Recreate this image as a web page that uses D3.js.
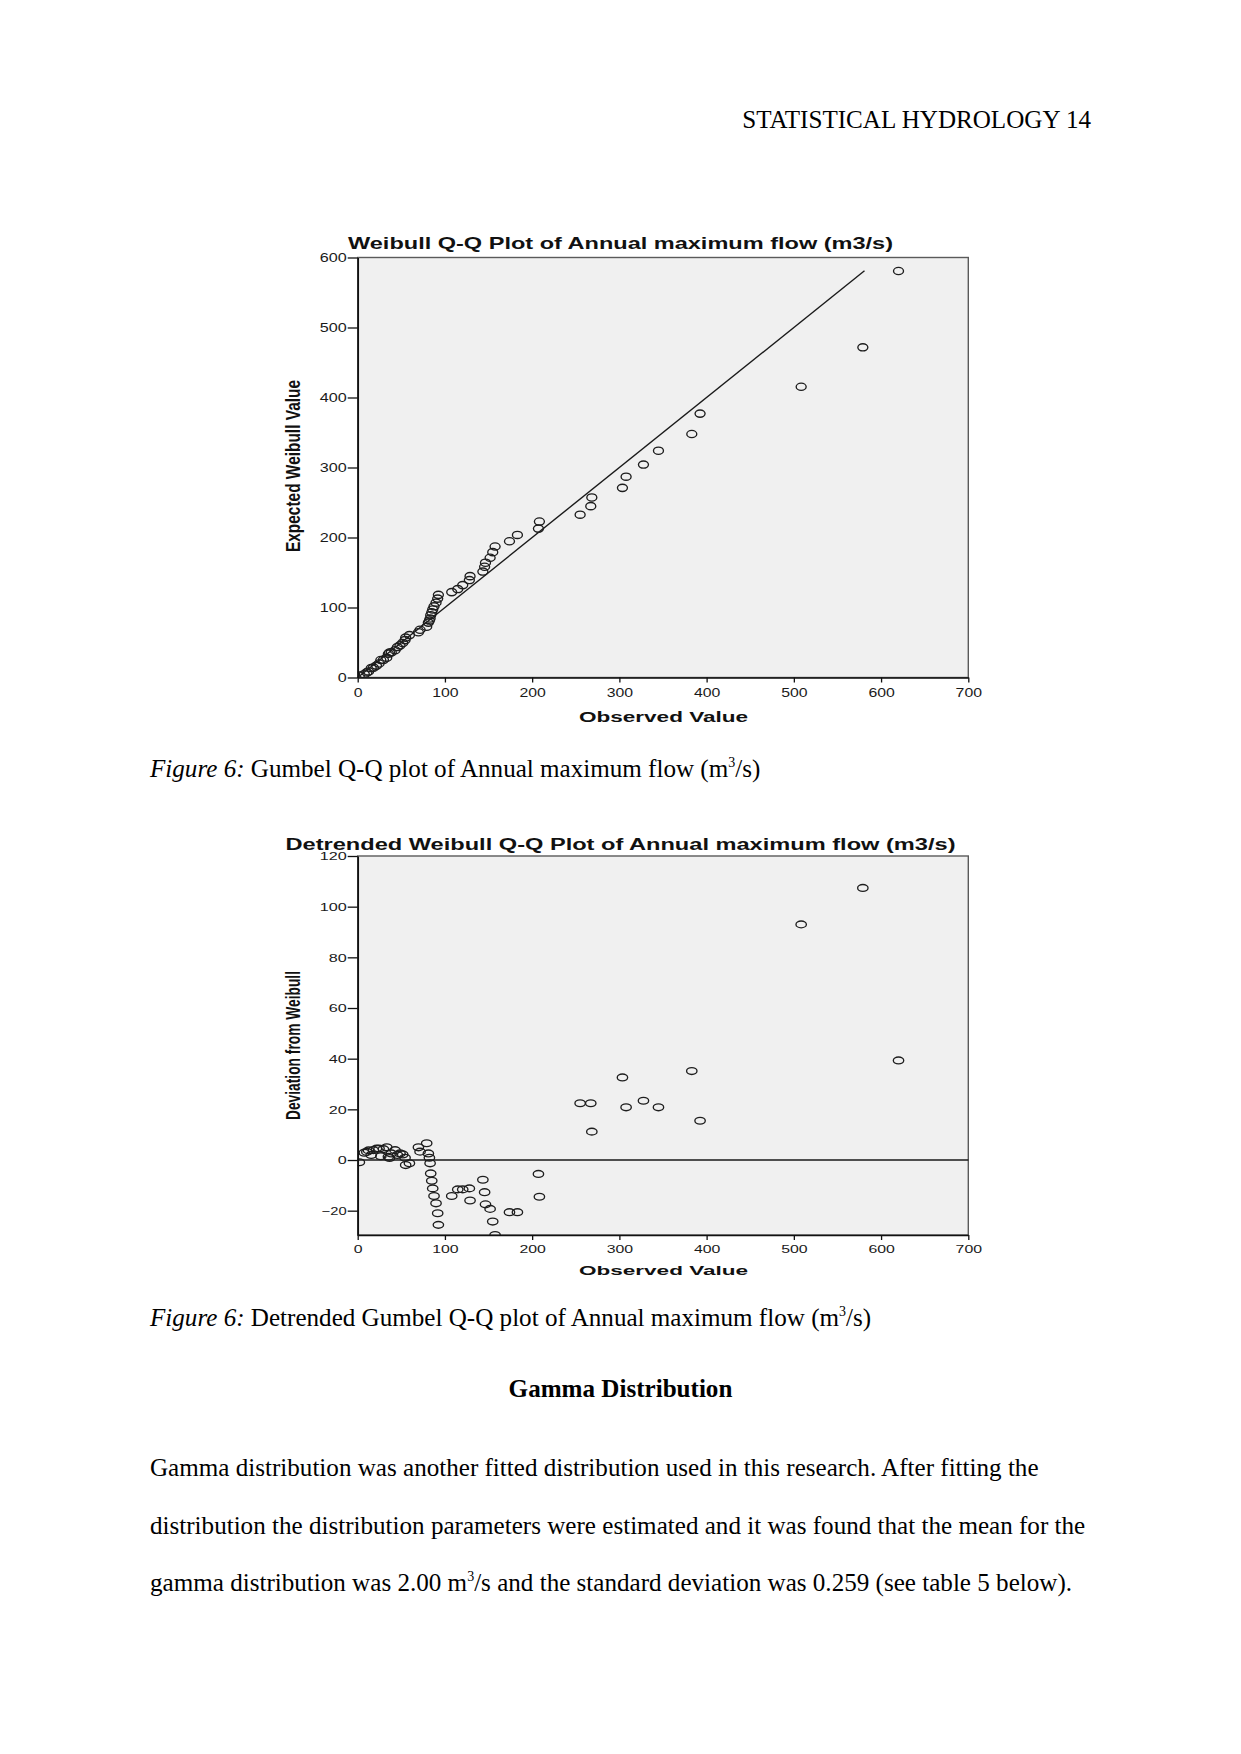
<!DOCTYPE html>
<html>
<head>
<meta charset="utf-8">
<script src="https://cdn.jsdelivr.net/npm/d3@7"></script>
<style>
  html, body { margin: 0; padding: 0; background: #fff; }
  svg { display: block; }
</style>
</head>
<body>
<svg id="page" width="1241" height="1754"></svg>
<script>
// ---------------- DATA ----------------
const xTicks = [0, 100, 200, 300, 400, 500, 600, 700];
const qqYTicks = [0, 100, 200, 300, 400, 500, 600];
const dtYTicks = [-20, 0, 20, 40, 60, 80, 100, 120];

// Observed annual maximum flows (x values, sorted)
const observed = [1.9, 7.6, 10.5, 12.5, 15.5, 18.0, 21.5, 24.5, 26.5, 29.5,
  33.3, 35.2, 36.5, 38.5, 42.8, 45.5, 48.5, 51.6, 54.3, 55.0,
  59.3, 69.6, 71.5, 79.1, 81.0, 82.2, 83.0, 83.7, 84.9, 86.0,
  87.5, 89.8, 91.7, 92.5, 107.8, 114.7, 120.4, 128.0, 128.8, 143.5,
  145.5, 146.5, 151.8, 154.8, 157.5, 174.0, 183.1, 207.2, 208.3, 255.0,
  267.2, 268.4, 303.5, 307.7, 327.6, 344.8, 383.0, 392.5, 508.4, 579.1, 620.0];

// Expected Weibull values (y values of the Q-Q plot)
const expected = [2.8, 4.7, 7.3, 8.7, 13.5, 14.1, 17.0, 20.0, 25.0, 25.2,
  28.3, 33.9, 35.7, 35.9, 38.9, 43.5, 45.9, 49.4, 53.4, 57.0,
  60.6, 64.6, 68.2, 72.5, 78.4, 81.3, 84.3, 89.0, 93.1, 97.2,
  101.7, 106.9, 112.7, 118.1, 122.0, 126.3, 132.0, 139.2, 144.8, 151.3,
  158.2, 164.0, 171.1, 179.1, 187.1, 194.6, 203.7, 212.7, 222.8, 232.6,
  244.8, 257.2, 270.9, 286.9, 304.2, 324.0, 347.9, 377.0, 415.4, 471.7, 580.7];

// Deviation from Weibull (y values of the detrended plot)
const deviation = [-0.9, 2.9, 3.2, 3.8, 2.0, 3.9, 4.5, 4.5, 1.5, 4.3,
  5.0, 1.3, 0.8, 2.6, 3.9, 2.0, 2.6, 2.2, 0.9, -2.0,
  -1.3, 5.0, 3.3, 6.6, 2.6, 0.9, -1.3, -5.3, -8.2, -11.2,
  -14.2, -17.1, -21.0, -25.6, -14.2, -11.6, -11.6, -11.2, -16.0, -7.8,
  -12.7, -17.5, -19.3, -24.3, -29.6, -20.6, -20.6, -5.5, -14.5, 22.4,
  22.4, 11.2, 32.6, 20.8, 23.4, 20.8, 35.1, 15.5, 93.0, 107.4, 39.3];

// Reference lines (data units)
const qqRefLine = [[0, 0], [581, 581]];
const dtZeroLine = [[0, 0], [700, 0]];

// Texts
const header = "STATISTICAL HYDROLOGY 14";
const qqTitle = "Weibull Q-Q Plot of Annual maximum flow (m3/s)";
const dtTitle = "Detrended Weibull Q-Q Plot of Annual maximum flow (m3/s)";
const qqYLabel = "Expected Weibull Value";
const dtYLabel = "Deviation from Weibull";
const xLabel = "Observed Value";
const caption1 = ["Gumbel Q-Q plot of Annual maximum flow (m", "3", "/s)"];
const caption2 = ["Detrended Gumbel Q-Q plot of Annual maximum flow (m", "3", "/s)"];
const sectionHead = "Gamma Distribution";
const paraLines = [
  ["Gamma distribution was another fitted distribution used in this research. After fitting the"],
  ["distribution the distribution parameters were estimated and it was found that the mean for the"],
  ["gamma distribution was 2.00 m", "3", "/s and the standard deviation was 0.259 (see table 5 below)."]
];

// ---------------- DRAW ----------------
const svg = d3.select("#page");
svg.append("rect").attr("width", 1241).attr("height", 1754).attr("fill", "#fff");

const SERIF = "'Liberation Serif', 'Times New Roman', serif";
const SANS = "'Liberation Sans', Arial, sans-serif";
const BODY = 25.1;

// header
svg.append("text").attr("x", 1091).attr("y", 128).attr("text-anchor", "end")
  .attr("font-family", SERIF).attr("font-size", BODY).attr("fill", "#000").text(header);

function superText(sel, parts, italicPrefix) {
  if (italicPrefix) sel.append("tspan").attr("font-style", "italic").text(italicPrefix);
  parts.forEach((p, i) => {
    if (i % 2 === 1) {
      sel.append("tspan").attr("font-size", 14).attr("dy", -10).text(p);
    } else {
      const t = sel.append("tspan").text(p);
      if (i > 0) t.attr("dy", 10);
    }
  });
}

function drawChart(cfg) {
  const g = svg.append("g");
  const x = d3.scaleLinear().domain([0, 700]).range([cfg.left, cfg.right]);
  const y = d3.scaleLinear().domain(cfg.yDomain).range([cfg.bottom, cfg.top]);

  // plot background
  g.append("rect").attr("x", cfg.left).attr("y", cfg.top)
    .attr("width", cfg.right - cfg.left).attr("height", cfg.bottom - cfg.top)
    .attr("fill", "#f0f0f0").attr("stroke", "#5a5a5a").attr("stroke-width", 1.4);

  // clip
  const clipId = cfg.id + "-clip";
  g.append("clipPath").attr("id", clipId).append("rect")
    .attr("x", cfg.left).attr("y", cfg.top)
    .attr("width", cfg.right - cfg.left).attr("height", cfg.bottom - cfg.top);

  // reference line
  g.append("path").datum(cfg.refLine)
    .attr("d", d3.line().x(d => x(d[0])).y(d => y(d[1])))
    .attr("stroke", "#1a1a1a").attr("stroke-width", 1.4).attr("fill", "none");

  // points
  g.append("g").attr("clip-path", `url(#${clipId})`)
    .selectAll("ellipse").data(cfg.points).join("ellipse")
    .attr("cx", d => x(d[0])).attr("cy", d => y(d[1]))
    .attr("rx", cfg.rx).attr("ry", cfg.ry)
    .attr("fill", "none").attr("stroke", "#1e1e1e").attr("stroke-width", 1.35);

  // x axis
  const xAxis = d3.axisBottom(x).tickValues(xTicks).tickSize(5).tickSizeOuter(0)
    .tickPadding(3).tickFormat(d3.format("d"));
  const xa = g.append("g").attr("transform", `translate(0,${cfg.bottom})`).call(xAxis);
  xa.select(".domain").attr("stroke", "#111").attr("stroke-width", 1.7);
  xa.selectAll(".tick line").attr("stroke", "#111").attr("stroke-width", 1.3);
  xa.selectAll(".tick text").attr("font-family", SANS).attr("font-size", cfg.tickFont)
    .attr("fill", "#1a1a1a").attr("dy", null).attr("y", cfg.xTickBaseline - cfg.bottom)
    .attr("textLength", d => 8.8 * String(d).length).attr("lengthAdjust", "spacingAndGlyphs");

  // y axis
  const yAxis = d3.axisLeft(y).tickValues(cfg.yTicks).tickSize(10).tickSizeOuter(0)
    .tickPadding(1).tickFormat(d3.format("d"));
  const ya = g.append("g").attr("transform", `translate(${cfg.left},0)`).call(yAxis);
  ya.select(".domain").attr("stroke", "#111").attr("stroke-width", 1.7);
  ya.selectAll(".tick line").attr("stroke", "#111").attr("stroke-width", 1.3);
  ya.selectAll(".tick text").attr("font-family", SANS).attr("font-size", cfg.tickFont)
    .attr("fill", "#1a1a1a")
    .attr("textLength", d => 9 * String(d).length + (String(d)[0] === "-" ? -2 : 0))
    .attr("lengthAdjust", "spacingAndGlyphs");

  // title
  g.append("text").attr("x", 620.5).attr("y", cfg.titleY).attr("text-anchor", "middle")
    .attr("font-family", SANS).attr("font-weight", "bold").attr("font-size", cfg.titleFont)
    .attr("textLength", cfg.titleLen).attr("lengthAdjust", "spacingAndGlyphs")
    .attr("fill", "#111").text(cfg.title);

  // x label
  g.append("text").attr("x", (cfg.left + cfg.right) / 2 + 0.5).attr("y", cfg.xLabelY).attr("text-anchor", "middle")
    .attr("font-family", SANS).attr("font-weight", "bold").attr("font-size", cfg.xLabelFont)
    .attr("textLength", 169).attr("lengthAdjust", "spacingAndGlyphs")
    .attr("fill", "#111").text(xLabel);

  // y label
  g.append("text")
    .attr("transform", `translate(${cfg.yLabelX},${cfg.yLabelCY}) rotate(-90)`)
    .attr("text-anchor", "middle")
    .attr("font-family", SANS).attr("font-weight", "bold").attr("font-size", 20)
    .attr("textLength", cfg.yLabelLen).attr("lengthAdjust", "spacingAndGlyphs")
    .attr("fill", "#111").text(cfg.yLabel);
}

drawChart({
  id: "qq", left: 357.7, right: 968.3, top: 257.5, bottom: 677.5,
  yDomain: [0, 600], yTicks: qqYTicks,
  points: observed.map((o, i) => [o, expected[i]]),
  refLine: qqRefLine, rx: 5, ry: 3.6,
  tickFont: 13, xTickBaseline: 697,
  title: qqTitle, titleY: 249, titleFont: 17, titleLen: 545,
  xLabelY: 721.5, xLabelFont: 14.5,
  yLabel: qqYLabel, yLabelX: 300, yLabelCY: 466, yLabelLen: 172
});

drawChart({
  id: "dt", left: 357.7, right: 968.3, top: 856, bottom: 1235,
  yDomain: [-29.6, 120], yTicks: dtYTicks,
  points: observed.map((o, i) => [o, deviation[i]]),
  refLine: dtZeroLine, rx: 5.2, ry: 3.4,
  tickFont: 11.5, xTickBaseline: 1252.5,
  title: dtTitle, titleY: 850, titleFont: 16, titleLen: 670,
  xLabelY: 1275, xLabelFont: 13.5,
  yLabel: dtYLabel, yLabelX: 300, yLabelCY: 1045.5, yLabelLen: 149
});

// captions
const c1 = svg.append("text").attr("x", 150).attr("y", 777)
  .attr("font-family", SERIF).attr("font-size", BODY).attr("fill", "#000");
superText(c1, [" " + caption1[0], caption1[1], caption1[2]], "Figure 6:");
const c2 = svg.append("text").attr("x", 150).attr("y", 1326)
  .attr("font-family", SERIF).attr("font-size", BODY).attr("fill", "#000");
superText(c2, [" " + caption2[0], caption2[1], caption2[2]], "Figure 6:");

// section heading
svg.append("text").attr("x", 620.5).attr("y", 1397).attr("text-anchor", "middle")
  .attr("font-family", SERIF).attr("font-weight", "bold").attr("font-size", BODY)
  .attr("fill", "#000").text(sectionHead);

// paragraph
const paraY = [1476, 1534, 1591];
paraLines.forEach((parts, i) => {
  const t = svg.append("text").attr("x", 150).attr("y", paraY[i])
    .attr("font-family", SERIF).attr("font-size", BODY).attr("fill", "#000");
  superText(t, parts, null);
});
</script>
</body>
</html>
